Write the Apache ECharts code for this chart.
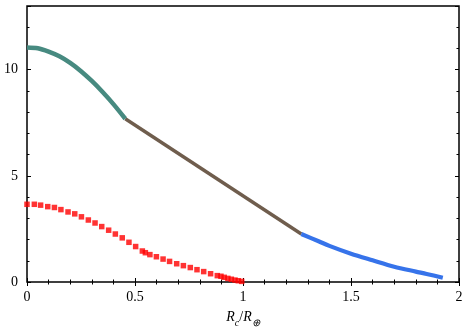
<!DOCTYPE html>
<html>
<head>
<meta charset="utf-8">
<script src="https://cdn.jsdelivr.net/npm/echarts@6/dist/echarts.min.js"></script>
<style>html,body{margin:0;padding:0;background:#fff;}#c{width:466px;height:331px;}</style>
</head>
<body>
<div id="c"></div>
<script>
// Data
const xTicks = [0, 0.5, 1, 1.5, 2];
const yTicks = [0, 5, 10];

const tealX = [0, 0.05, 0.1, 0.15, 0.2, 0.25, 0.3, 0.35, 0.4, 0.455];
const tealY = [11.05, 11.01, 10.85, 10.63, 10.32, 9.93, 9.47, 8.95, 8.38, 7.69];

const brownX = [0.455, 1.27];
const brownY = [7.69, 2.26];

const blueX = [1.27, 1.35, 1.4, 1.5, 1.6, 1.7, 1.8, 1.85, 1.925];
const blueY = [2.26, 1.92, 1.70, 1.33, 1.02, 0.72, 0.49, 0.38, 0.20];

const redX = [0.0, 0.034, 0.063, 0.096, 0.127, 0.157, 0.190, 0.221, 0.252, 0.284, 0.315, 0.346, 0.378, 0.409, 0.441, 0.472, 0.503, 0.534, 0.548, 0.569, 0.599, 0.630, 0.660, 0.693, 0.724, 0.756, 0.787, 0.818, 0.850, 0.881, 0.898, 0.913, 0.930, 0.946, 0.963, 0.978, 0.994];
const redY = [3.66, 3.66, 3.62, 3.55, 3.51, 3.41, 3.30, 3.21, 3.07, 2.92, 2.78, 2.61, 2.44, 2.26, 2.08, 1.87, 1.67, 1.46, 1.38, 1.29, 1.19, 1.08, 0.97, 0.86, 0.77, 0.68, 0.58, 0.49, 0.39, 0.30, 0.27, 0.22, 0.17, 0.13, 0.09, 0.06, 0.03];

const zip = (xs, ys) => xs.map((x, i) => [x, ys[i]]);
const FONT = 'Liberation Serif';

const chart = echarts.init(document.getElementById('c'), null, {renderer: 'canvas'});

const baseX = {
  type: 'value', min: 0, max: 2, interval: 0.5,
  axisLine: {show: false},
  splitLine: {show: false},
  axisTick: {show: true, inside: true, length: 4, lineStyle: {color: '#000', width: 1}},
  minorTick: {show: true, splitNumber: 5, length: 2.5, lineStyle: {color: '#000', width: 1}},
};
const yMajor = {
  type: 'value', min: 0, max: 13, interval: 5,
  axisLine: {show: false},
  splitLine: {show: false},
  axisTick: {show: true, inside: true, length: 4, lineStyle: {color: '#000', width: 1}},
};
const yMinor = {
  type: 'value', min: 0, max: 13, interval: 1,
  axisLine: {show: false},
  splitLine: {show: false},
  axisLabel: {show: false},
  axisTick: {show: true, inside: true, length: 2.5, lineStyle: {color: '#000', width: 1}},
};

chart.setOption({
  animation: false,
  grid: {left: 27, right: 7, top: 6, bottom: 49, containLabel: false, outerBoundsMode: 'none',
    show: true, borderColor: '#000', borderWidth: 1.5, backgroundColor: 'transparent'},
  xAxis: [
    Object.assign({}, baseX, {
      position: 'bottom',
      axisLabel: {show: true, color: '#000', fontFamily: FONT, fontSize: 14, margin: 8,
        formatter: v => xTicks.includes(v) ? String(v) : ''},
      name: '{i|R}{s|c}{n|/}{i|R}{s|⊕}',
      nameLocation: 'middle', nameGap: 26,
      nameTextStyle: {
        rich: {
          i: {fontFamily: FONT, fontStyle: 'italic', fontSize: 14, color: '#000', lineHeight: 16, verticalAlign: 'bottom'},
          n: {fontFamily: FONT, fontSize: 14, color: '#000', lineHeight: 16, verticalAlign: 'bottom'},
          s: {fontFamily: FONT, fontStyle: 'italic', fontSize: 10, color: '#000', lineHeight: 10, verticalAlign: 'bottom', padding: [0, 0, -4, 0]}
        }
      }
    }),
    Object.assign({}, baseX, {position: 'top', axisLabel: {show: false}})
  ],
  yAxis: [
    Object.assign({}, yMajor, {position: 'left',
      axisLabel: {show: true, color: '#000', fontFamily: FONT, fontSize: 14, margin: 9,
        formatter: v => yTicks.includes(v) ? String(v) : ''}}),
    Object.assign({}, yMinor, {position: 'left'}),
    Object.assign({}, yMajor, {position: 'right', axisLabel: {show: false}}),
    Object.assign({}, yMinor, {position: 'right'})
  ],
  series: [
    {type: 'line', data: zip(brownX, brownY), showSymbol: false, symbol: 'none',
      lineStyle: {color: '#6f5d4d', width: 3.4}, z: 2},
    {type: 'line', data: zip(tealX, tealY), showSymbol: false, symbol: 'none', smooth: 0.3,
      lineStyle: {color: '#478a80', width: 4.5}, z: 3},
    {type: 'line', data: zip(blueX, blueY), showSymbol: false, symbol: 'none', smooth: 0.3,
      lineStyle: {color: '#3673ea', width: 4.2}, z: 3},
    {type: 'scatter', data: zip(redX, redY), symbol: 'rect', symbolSize: 5.5,
      itemStyle: {color: '#ff0000'}, z: 4}
  ]
});
</script>
</body>
</html>
